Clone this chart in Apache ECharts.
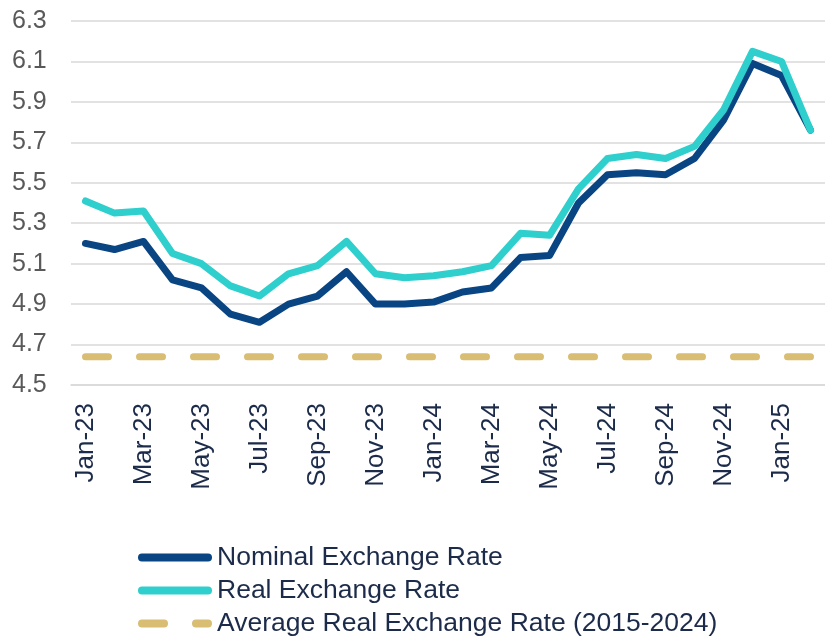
<!DOCTYPE html>
<html>
<head>
<meta charset="utf-8">
<script src="https://cdn.jsdelivr.net/npm/echarts@6/dist/echarts.min.js"></script>
<style>
  html, body { margin: 0; padding: 0; background: #fff; }
  #chart { width: 825px; height: 637px; }
</style>
</head>
<body>
<div id="chart"></div>
<script>
// 月份
const months = ['Jan-23', 'Feb-23', 'Mar-23', 'Apr-23', 'May-23', 'Jun-23', 'Jul-23', 'Aug-23',
    'Sep-23', 'Oct-23', 'Nov-23', 'Dec-23', 'Jan-24', 'Feb-24', 'Mar-24', 'Apr-24', 'May-24',
    'Jun-24', 'Jul-24', 'Aug-24', 'Sep-24', 'Oct-24', 'Nov-24', 'Dec-24', 'Jan-25', 'Feb-25']
// 名义汇率
const nominal = [5.20, 5.17, 5.21, 5.02, 4.98, 4.85, 4.81, 4.90, 4.94, 5.06, 4.90, 4.90, 4.91,
    4.96, 4.98, 5.13, 5.14, 5.40, 5.54, 5.55, 5.54, 5.62, 5.81, 6.09, 6.03, 5.76]
// 实际汇率
const real = [5.41, 5.35, 5.36, 5.15, 5.10, 4.99, 4.94, 5.05, 5.09, 5.21, 5.05, 5.03, 5.04,
    5.06, 5.09, 5.25, 5.24, 5.47, 5.62, 5.64, 5.62, 5.68, 5.86, 6.15, 6.10, 5.76]
// 2015-2024 平均实际汇率
const average = months.map(() => 4.64)

// 图例图标: 圆角实线 / 虚线
const solidIcon = 'path://M4,0 H70 A4,4 0 0 1 70,8 H4 A4,4 0 0 1 4,0 Z'
const dashIcon = 'path://M4,0 H26 A4,4 0 0 1 26,8 H4 A4,4 0 0 1 4,0 Z M58,0 H70 A4,4 0 0 1 70,8 H58 A4,4 0 0 1 58,0 Z'

const chart = echarts.init(document.getElementById('chart'))
const option = {
    animation: false,
    grid: { left: 71, top: 21, right: -7, bottom: 252 },
    legend: {
        orient: 'vertical',
        left: 138,
        top: 544,
        height: 140,
        padding: 0,
        itemWidth: 74,
        itemHeight: 8,
        itemGap: 6,
        data: [
            { name: 'Nominal Exchange Rate', icon: solidIcon },
            { name: 'Real Exchange Rate', icon: solidIcon },
            { name: 'Average Real Exchange Rate (2015-2024)', icon: dashIcon }
        ],
        textStyle: { fontFamily: 'Liberation Sans', fontSize: 26.5, lineHeight: 24, color: '#1c2b4a' }
    },
    xAxis: {
        type: 'category',
        data: months,
        boundaryGap: true,
        axisLine: { lineStyle: { color: '#d9d9d9', width: 1.5 } },
        axisTick: { interval: 1, length: 9, lineStyle: { color: '#d9d9d9', width: 1.5 } },
        axisLabel: {
            interval: 1,
            rotate: 90,
            margin: 18,
            fontFamily: 'Liberation Sans',
            fontSize: 26,
            color: '#1c2b4a'
        }
    },
    yAxis: {
        type: 'value',
        min: 4.5,
        max: 6.3,
        interval: 0.2,
        axisLine: { show: false },
        axisTick: { show: false },
        splitLine: { lineStyle: { color: '#d9d9d9', width: 1.5 } },
        axisLabel: {
            align: 'left',
            margin: 59,
            fontFamily: 'Liberation Sans',
            fontSize: 25,
            color: '#595959',
            formatter: v => v.toFixed(1)
        }
    },
    series: [
        {
            name: 'Average Real Exchange Rate (2015-2024)',
            type: 'line',
            data: average,
            symbol: 'none',
            lineStyle: { color: '#d8bd72', width: 7, type: [23, 31], cap: 'round' },
            itemStyle: { color: '#d8bd72' }
        },
        {
            name: 'Nominal Exchange Rate',
            type: 'line',
            data: nominal,
            symbol: 'none',
            lineStyle: { color: '#0a4583', width: 7, join: 'round', cap: 'round' },
            itemStyle: { color: '#0a4583' }
        },
        {
            name: 'Real Exchange Rate',
            type: 'line',
            data: real,
            symbol: 'none',
            lineStyle: { color: '#2ecfcc', width: 7, join: 'round', cap: 'round' },
            itemStyle: { color: '#2ecfcc' }
        }
    ]
}
chart.setOption(option)
</script>
</body>
</html>
